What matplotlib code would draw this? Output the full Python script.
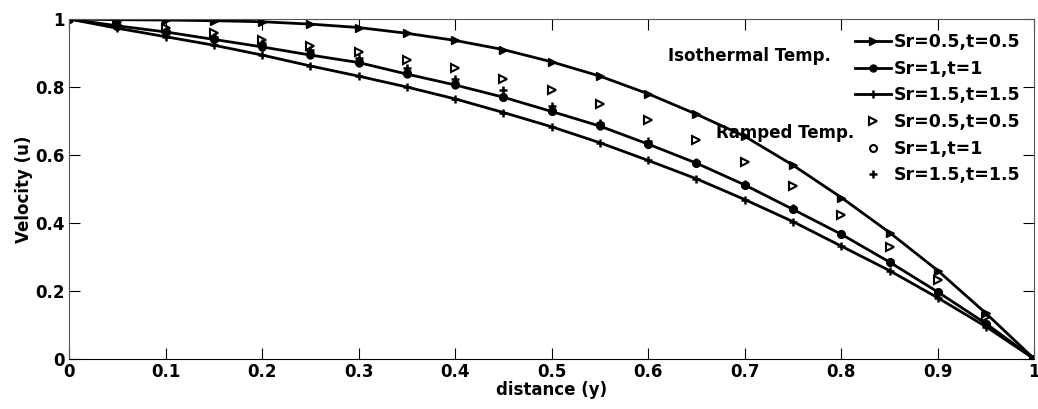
import numpy as np
import matplotlib
matplotlib.use("Agg")
import matplotlib.pyplot as plt

plt.rcParams['font.family'] = ['DejaVu Sans']
plt.rcParams['font.weight'] = 'bold'

# distance y
y = [0, 0.05, 0.1, 0.15, 0.2, 0.25, 0.3, 0.35, 0.4, 0.45, 0.5,
     0.55, 0.6, 0.65, 0.7, 0.75, 0.8, 0.85, 0.9, 0.95, 1.0]

# isothermal temperature
iso_05 = [1, 0.998, 0.997, 0.995, 0.992, 0.985, 0.975, 0.958, 0.937, 0.91, 0.874,
          0.832, 0.78, 0.72, 0.655, 0.57, 0.475, 0.372, 0.26, 0.134, 0]
iso_1 = [1, 0.98, 0.962, 0.94, 0.918, 0.894, 0.872, 0.838, 0.806, 0.77, 0.728,
         0.685, 0.632, 0.576, 0.512, 0.44, 0.367, 0.285, 0.197, 0.104, 0]
iso_15 = [1, 0.973, 0.948, 0.923, 0.894, 0.862, 0.832, 0.8, 0.765, 0.725, 0.683,
          0.636, 0.584, 0.53, 0.469, 0.404, 0.332, 0.26, 0.18, 0.095, 0]

# ramped temperature
ramp_05 = [1, 0.99, 0.975, 0.958, 0.938, 0.922, 0.903, 0.88, 0.856, 0.823, 0.791,
           0.75, 0.703, 0.644, 0.579, 0.51, 0.424, 0.33, 0.232, 0.124, 0]
ramp_1 = [1, 0.98, 0.963, 0.942, 0.92, 0.896, 0.873, 0.84, 0.808, 0.772, 0.73,
          0.687, 0.633, 0.577, 0.512, 0.44, 0.367, 0.285, 0.197, 0.104, 0]
ramp_15 = [1, 0.982, 0.966, 0.948, 0.93, 0.91, 0.885, 0.855, 0.823, 0.79, 0.745,
           0.695, 0.64, 0.58, 0.515, 0.443, 0.368, 0.286, 0.196, 0.103, 0]

fig = plt.figure(figsize=(10.38, 4.09), dpi=100)
ax = fig.add_axes([0.0665, 0.1222, 0.9300, 0.8313])

lw = 2
ax.plot(y, iso_05, 'k-', marker='>', ms=6, lw=lw, label='Sr=0.5,t=0.5')
ax.plot(y, iso_1, 'k-', marker='o', ms=5, lw=lw, mfc='k', label='Sr=1,t=1')
ax.plot(y, iso_15, 'k-', marker='+', ms=6, mew=1.8, lw=lw, label='Sr=1.5,t=1.5')
ax.plot(y, ramp_05, 'k', ls='none', marker='>', ms=6, mfc='none', mew=1.5,
        label='Sr=0.5,t=0.5')
ax.plot(y, ramp_1, 'k', ls='none', marker='o', ms=5, mfc='none', mew=1.5,
        label='Sr=1,t=1')
ax.plot(y, ramp_15, 'k', ls='none', marker='+', ms=6, mew=1.8,
        label='Sr=1.5,t=1.5')

ax.text(0.62, 0.89, 'Isothermal Temp.', fontsize=12, fontweight='bold', va='center')
ax.text(0.67, 0.665, 'Ramped Temp.', fontsize=12, fontweight='bold', va='center')

ax.set_xlim(0, 1)
ax.set_ylim(0, 1)
ax.set_xticks(np.arange(0, 1.01, 0.1))
ax.set_xticklabels(['0', '0.1', '0.2', '0.3', '0.4', '0.5', '0.6', '0.7', '0.8', '0.9', '1'])
ax.set_yticks(np.arange(0, 1.01, 0.2))
ax.set_yticklabels(['0', '0.2', '0.4', '0.6', '0.8', '1'])
ax.tick_params(direction='in', top=True, right=True, length=8, labelsize=12, pad=3)
for s in ax.spines.values():
    s.set_color('#555555')
ax.spines['bottom'].set_color('k')

ax.set_xlabel('distance (y)', fontsize=12, fontweight='bold', labelpad=0)
ax.set_ylabel('Velocity (u)', fontsize=12, fontweight='bold', labelpad=2)

ax.legend(loc='upper right', frameon=False, fontsize=12.5, handlelength=2.1,
          handletextpad=0.15, labelspacing=0.5, borderaxespad=0.5,
          borderpad=0.3)

fig.savefig('out.png', dpi=100)
